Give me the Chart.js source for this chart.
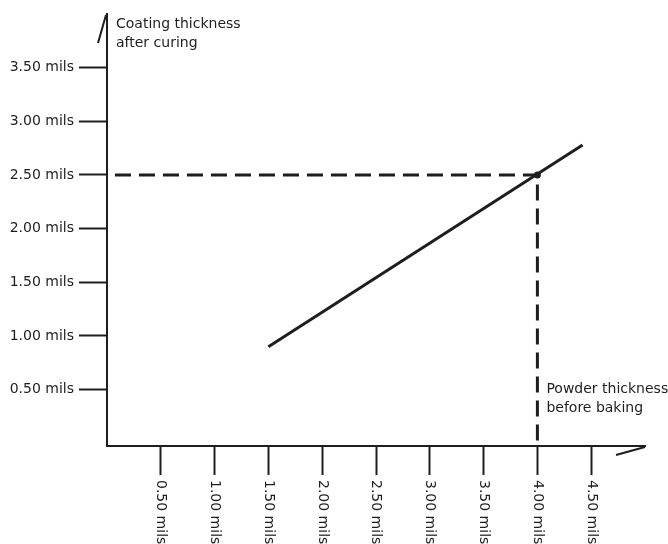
<!DOCTYPE html>
<html>
<head>
<meta charset="utf-8">
<script src="https://cdn.jsdelivr.net/npm/chart.js@4/dist/chart.umd.min.js"></script>
<style>
    html, body { margin: 0; padding: 0; background: #fff; }
    #wrap { width: 668px; height: 544px; }
</style>
</head>
<body>
<div id="wrap"><canvas id="chart"></canvas></div>
<script>
// values (mils)
const xTickValues = [0.5, 1.0, 1.5, 2.0, 2.5, 3.0, 3.5, 4.0, 4.5];
const yTickValues = [0.5, 1.0, 1.5, 2.0, 2.5, 3.0, 3.5];
const powderThickness = [1.5, 4.42];
const coatingThickness = [0.9, 2.78];
const guideX = [0, 4.0, 4.0];
const guideY = [2.5, 2.5, 0];
const markerX = [4.0];
const markerY = [2.5];
const yAxisTitle = ['Coating thickness', 'after curing'];
const xAxisTitle = ['Powder thickness', 'before baking'];

const ink = '#1e1e1e';
const font = '14px "DejaVu Sans", Verdana, sans-serif';
const fmt = v => v.toFixed(2) + ' mils';
const toPoints = (xs, ys) => xs.map((x, i) => ({ x, y: ys[i] }));

const axisDecor = {
    id: 'axisDecor',
    afterDraw(chart) {
        const ctx = chart.ctx;
        const a = chart.chartArea;
        const xs = chart.scales.x;
        ctx.save();
        ctx.strokeStyle = ink;
        ctx.lineWidth = 2;
        // little slanted strokes at the axis ends
        ctx.beginPath();
        ctx.moveTo(a.left - 9, a.top + 29);
        ctx.lineTo(a.left - 1, a.top + 1);
        ctx.moveTo(a.right - 29, a.bottom + 9);
        ctx.lineTo(a.right, a.bottom + 1);
        ctx.stroke();

        ctx.fillStyle = ink;
        ctx.font = font;
        // rotated x tick labels, reading top to bottom
        xTickValues.forEach(v => {
            ctx.save();
            ctx.translate(xs.getPixelForValue(v), a.bottom + 34);
            ctx.rotate(Math.PI / 2);
            ctx.textAlign = 'left';
            ctx.textBaseline = 'middle';
            ctx.fillText(fmt(v), 0, 0);
            ctx.restore();
        });

        ctx.textAlign = 'left';
        ctx.textBaseline = 'alphabetic';
        ctx.fillText(yAxisTitle[0], a.left + 9, 28);
        ctx.fillText(yAxisTitle[1], a.left + 9, 47);
        const gx = xs.getPixelForValue(markerX[0]) + 9;
        ctx.fillText(xAxisTitle[0], gx, 393);
        ctx.fillText(xAxisTitle[1], gx, 412);
        ctx.restore();
    }
};

new Chart(document.getElementById('chart'), {
    type: 'scatter',
    data: {
        datasets: [
            {
                data: toPoints(guideX, guideY),
                showLine: true,
                borderColor: ink,
                borderWidth: 3,
                borderDash: [16, 8],
                borderDashOffset: 16,
                pointRadius: 0,
                fill: false
            },
            {
                data: toPoints(powderThickness, coatingThickness),
                showLine: true,
                borderColor: ink,
                borderWidth: 3,
                pointRadius: 0,
                fill: false
            },
            {
                data: toPoints(markerX, markerY),
                pointRadius: 3.5,
                pointBackgroundColor: ink,
                pointBorderColor: ink,
                pointBorderWidth: 0
            }
        ]
    },
    options: {
        responsive: true,
        maintainAspectRatio: false,
        animation: false,
        events: [],
        layout: { padding: { top: 14, right: 23, left: 0, bottom: 0 } },
        plugins: {
            legend: { display: false },
            tooltip: { enabled: false }
        },
        scales: {
            x: {
                type: 'linear',
                min: 0,
                max: 5,
                border: { display: true, color: ink, width: 2 },
                grid: { drawOnChartArea: false, drawTicks: true, tickLength: 29, tickWidth: 2, tickColor: ink },
                ticks: { display: false },
                afterBuildTicks: s => { s.ticks = xTickValues.map(v => ({ value: v })); },
                afterFit: s => { s.height = 98; }
            },
            y: {
                type: 'linear',
                min: -0.025,
                max: 4.0,
                border: { display: true, color: ink, width: 2 },
                grid: { drawOnChartArea: false, drawTicks: true, tickLength: 28, tickWidth: 2, tickColor: ink },
                ticks: {
                    color: ink,
                    font: { family: '"DejaVu Sans", Verdana, sans-serif', size: 14 },
                    padding: 5,
                    callback: v => fmt(v)
                },
                afterBuildTicks: s => { s.ticks = yTickValues.map(v => ({ value: v })); },
                afterFit: s => { s.width = 107; }
            }
        }
    },
    plugins: [axisDecor]
});
</script>
</body>
</html>
